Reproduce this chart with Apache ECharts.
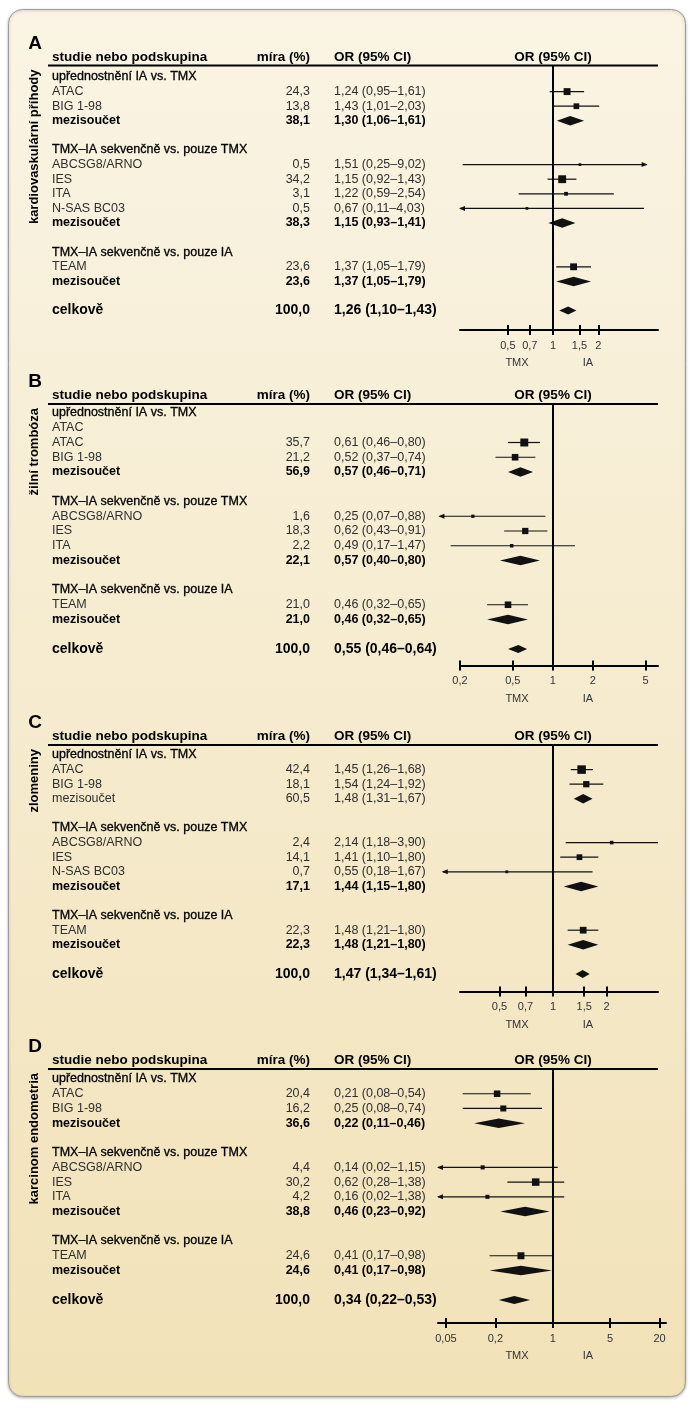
<!DOCTYPE html>
<html><head><meta charset="utf-8">
<script src="https://cdn.jsdelivr.net/npm/echarts@6/dist/echarts.min.js"></script>
<style>html,body{margin:0;padding:0;background:#fff}#c{width:694px;height:1408px}</style>
</head><body><div id="c"></div>
<script>
// ---------- Panel A: kardiovaskulární příhody ----------
const rowsA   = ['upřednostnění IA vs. TMX','ATAC','BIG 1-98','mezisoučet','','TMX–IA sekvenčně vs. pouze TMX','ABCSG8/ARNO','IES','ITA','N-SAS BC03','mezisoučet','','TMX–IA sekvenčně vs. pouze IA','TEAM','mezisoučet','','celkově'];
const kindA   = ['g','s','s','d','','g','s','s','s','s','d','','g','s','d','','t'];
const weightA = [null,24.3,13.8,38.1,null,null,0.5,34.2,3.1,0.5,38.3,null,null,23.6,23.6,null,100.0];
const orA     = [null,1.24,1.43,1.30,null,null,1.51,1.15,1.22,0.67,1.15,null,null,1.37,1.37,null,1.26];
const loA     = [null,0.95,1.01,1.06,null,null,0.25,0.92,0.59,0.11,0.93,null,null,1.05,1.05,null,1.10];
const hiA     = [null,1.61,2.03,1.61,null,null,9.02,1.43,2.54,4.03,1.41,null,null,1.79,1.79,null,1.43];
const ticksA  = [0.5,0.7,1,1.5,2];

// ---------- Panel B: žilní trombóza ----------
const rowsB   = ['upřednostnění IA vs. TMX','ATAC','ATAC','BIG 1-98','mezisoučet','','TMX–IA sekvenčně vs. pouze TMX','ABCSG8/ARNO','IES','ITA','mezisoučet','','TMX–IA sekvenčně vs. pouze IA','TEAM','mezisoučet','','celkově'];
const kindB   = ['g','l','s','s','d','','g','s','s','s','d','','g','s','d','','t'];
const weightB = [null,null,35.7,21.2,56.9,null,null,1.6,18.3,2.2,22.1,null,null,21.0,21.0,null,100.0];
const orB     = [null,null,0.61,0.52,0.57,null,null,0.25,0.62,0.49,0.57,null,null,0.46,0.46,null,0.55];
const loB     = [null,null,0.46,0.37,0.46,null,null,0.07,0.43,0.17,0.40,null,null,0.32,0.32,null,0.46];
const hiB     = [null,null,0.80,0.74,0.71,null,null,0.88,0.91,1.47,0.80,null,null,0.65,0.65,null,0.64];
const ticksB  = [0.2,0.5,1,2,5];

// ---------- Panel C: zlomeniny ----------
const rowsC   = ['upřednostnění IA vs. TMX','ATAC','BIG 1-98','mezisoučet','','TMX–IA sekvenčně vs. pouze TMX','ABCSG8/ARNO','IES','N-SAS BC03','mezisoučet','','TMX–IA sekvenčně vs. pouze IA','TEAM','mezisoučet','','celkově'];
const kindC   = ['g','s','s','dp','','g','s','s','s','d','','g','s','d','','t'];
const weightC = [null,42.4,18.1,60.5,null,null,2.4,14.1,0.7,17.1,null,null,22.3,22.3,null,100.0];
const orC     = [null,1.45,1.54,1.48,null,null,2.14,1.41,0.55,1.44,null,null,1.48,1.48,null,1.47];
const loC     = [null,1.26,1.24,1.31,null,null,1.18,1.10,0.18,1.15,null,null,1.21,1.21,null,1.34];
const hiC     = [null,1.68,1.92,1.67,null,null,3.90,1.80,1.67,1.80,null,null,1.80,1.80,null,1.61];
const ticksC  = [0.5,0.7,1,1.5,2];

// ---------- Panel D: karcinom endometria ----------
const rowsD   = ['upřednostnění IA vs. TMX','ATAC','BIG 1-98','mezisoučet','','TMX–IA sekvenčně vs. pouze TMX','ABCSG8/ARNO','IES','ITA','mezisoučet','','TMX–IA sekvenčně vs. pouze IA','TEAM','mezisoučet','','celkově'];
const kindD   = ['g','s','s','d','','g','s','s','s','d','','g','s','d','','t'];
const weightD = [null,20.4,16.2,36.6,null,null,4.4,30.2,4.2,38.8,null,null,24.6,24.6,null,100.0];
const orD     = [null,0.21,0.25,0.22,null,null,0.14,0.62,0.16,0.46,null,null,0.41,0.41,null,0.34];
const loD     = [null,0.08,0.08,0.11,null,null,0.02,0.28,0.02,0.23,null,null,0.17,0.17,null,0.22];
const hiD     = [null,0.54,0.74,0.46,null,null,1.15,1.38,1.38,0.92,null,null,0.98,0.98,null,0.53];
const ticksD  = [0.05,0.2,1,5,20];

const sideLabels = ['kardiovaskulární příhody','žilní trombóza','zlomeniny','karcinom endometria'];
const panelLetters = ['A','B','C','D'];
const headerTexts = ['studie nebo podskupina','míra (%)','OR (95% CI)','OR (95% CI)'];
const favourLabels = ['TMX','IA'];

// ---------- layout ----------
const FONT = "'Liberation Sans', Arial, sans-serif";
const layout = [
  {lineY:65.5, firstY:77,   sp:14.6,  axisY:330,   gl:460, gr:658, min:0.24, max:5,   arrowLo:0.24, arrowHi:4.2},
  {lineY:404,  firstY:413,  sp:14.75, axisY:665.5, gl:460, gr:658, min:0.2,  max:6.2, arrowLo:0.14, arrowHi:6.2},
  {lineY:745,  firstY:755,  sp:14.6,  axisY:991.5, gl:460, gr:658, min:0.3,  max:3.9, arrowLo:0.24, arrowHi:3.9},
  {lineY:1069, firstY:1079, sp:14.73, axisY:1323,  gl:438, gr:666, min:0.04, max:24,  arrowLo:0.04, arrowHi:24}
];
const panels = [
  {rows:rowsA,kind:kindA,w:weightA,or:orA,lo:loA,hi:hiA,ticks:ticksA},
  {rows:rowsB,kind:kindB,w:weightB,or:orB,lo:loB,hi:hiB,ticks:ticksB},
  {rows:rowsC,kind:kindC,w:weightC,or:orC,lo:loC,hi:hiC,ticks:ticksC},
  {rows:rowsD,kind:kindD,w:weightD,or:orD,lo:loD,hi:hiD,ticks:ticksD}
];

const fmt1 = v => v.toFixed(1).replace('.', ',');
const fmt2 = v => v.toFixed(2).replace('.', ',');
const fmtTick = v => String(Number(Math.pow(10, v).toPrecision(3))).replace('.', ',');

function txt(s, x, y, font, fill, align, semi) {
  const st = {text: s, font: font, fill: fill, align: align, verticalAlign: 'middle'};
  if (semi) { st.stroke = fill; st.lineWidth = 0.3; }
  return {type: 'text', x: x, y: y, style: st};
}

function renderFor(P, L) {
  return function (params, api) {
    const i = params.dataIndex;
    const k = P.kind[i];
    const y = api.coord([0, i])[1];
    const X = v => api.coord([Math.log10(v), i])[0];
    const ch = [];
    const bold = (k === 'd' || k === 't');
    const fs = k === 't' ? 14 : 12.5;
    const font = (bold ? 'bold ' : '') + fs + 'px ' + FONT;
    const col = (bold || k === 'g') ? '#000' : '#2e2e2e';
    if (P.rows[i]) ch.push(txt(P.rows[i], 52, y, font, col, 'left', k === 'g'));
    if (P.w[i] != null) ch.push(txt(fmt1(P.w[i]), 310, y, font, col, 'right'));
    if (P.or[i] != null) ch.push(txt(fmt2(P.or[i]) + ' (' + fmt2(P.lo[i]) + '–' + fmt2(P.hi[i]) + ')', 334, y, font, col, 'left'));
    if (k === 's') {
      const lo = Math.max(P.lo[i], L.arrowLo), hi = Math.min(P.hi[i], L.arrowHi);
      const x1 = X(lo), x2 = X(hi), xc = X(P.or[i]);
      ch.push({type: 'line', shape: {x1: x1, y1: y, x2: x2, y2: y}, style: {stroke: '#111', lineWidth: 1.2}});
      if (P.lo[i] < L.arrowLo) ch.push({type: 'polygon', shape: {points: [[x1 - 1, y], [x1 + 5, y - 2.5], [x1 + 5, y + 2.5]]}, style: {fill: '#111'}});
      if (P.hi[i] > L.arrowHi) ch.push({type: 'polygon', shape: {points: [[x2 + 1, y], [x2 - 5, y - 2.5], [x2 - 5, y + 2.5]]}, style: {fill: '#111'}});
      const s = 2 + Math.sqrt(P.w[i]);
      ch.push({type: 'rect', shape: {x: xc - s / 2, y: y - s / 2, width: s, height: s}, style: {fill: '#111'}});
    } else if (k === 'd' || k === 'dp' || k === 't') {
      const h = k === 't' ? 8 : 9.5;
      const x1 = X(P.lo[i]), x2 = X(P.hi[i]), xc = X(P.or[i]);
      ch.push({type: 'polygon', shape: {points: [[x1, y], [xc, y - h / 2], [x2, y], [xc, y + h / 2]]}, style: {fill: '#111'}});
    }
    return {type: 'group', children: ch};
  };
}

const grids = [], xAxes = [], yAxes = [], series = [];
const graphic = [{
  type: 'rect', z: -10, silent: true,
  shape: {x: 8.5, y: 9.5, width: 677, height: 1387, r: 14},
  style: {
    fill: new echarts.graphic.LinearGradient(0, 0, 0, 1, [{offset: 0, color: '#faf4e4'}, {offset: 1, color: '#f1e2b8'}]),
    stroke: '#9c9c9c', lineWidth: 1, shadowBlur: 3, shadowColor: 'rgba(0,0,0,0.25)', shadowOffsetY: 1
  }
}];

panels.forEach((P, k) => {
  const L = layout[k];
  grids.push({left: L.gl, width: L.gr - L.gl, top: L.lineY, height: L.axisY - L.lineY, containLabel: false, outerBoundsMode: 'none'});
  const tv = P.ticks.map(v => Math.log10(v));
  const base = {gridIndex: k, type: 'value', position: 'bottom', min: Math.log10(L.min), max: Math.log10(L.max), splitLine: {show: false}};
  xAxes.push(Object.assign({}, base, {
    axisLine: {show: true, onZero: false, lineStyle: {color: '#000', width: 2}},
    axisTick: {show: true, inside: false, length: 5, customValues: tv, lineStyle: {color: '#000', width: 2}},
    axisLabel: {show: true, customValues: tv, formatter: fmtTick, margin: 10, color: '#333', fontSize: 11, fontFamily: FONT}
  }));
  xAxes.push(Object.assign({}, base, {
    axisLine: {show: false, onZero: false},
    axisTick: {show: true, inside: true, length: 5, customValues: tv, lineStyle: {color: '#000', width: 2}},
    axisLabel: {show: false}
  }));
  yAxes.push({gridIndex: k, type: 'value', inverse: true,
    min: -(L.firstY - L.lineY) / L.sp, max: (L.axisY - L.firstY) / L.sp, show: false});
  series.push({
    type: 'custom', xAxisIndex: 2 * k, yAxisIndex: k, clip: false, silent: true,
    data: P.rows.map((_, i) => [P.or[i] != null ? Math.log10(P.or[i]) : 0, i]),
    encode: {x: 0, y: 1},
    renderItem: renderFor(P, L),
    markLine: {silent: true, symbol: ['none', 'none'], label: {show: false},
      lineStyle: {color: '#000', width: 2, type: 'solid'}, data: [{xAxis: 0}]}
  });

  // static texts
  const hy = L.lineY - 8.5;
  const hf = 'bold 13.5px ' + FONT;
  graphic.push({type: 'text', x: 35, y: L.lineY - 22, style: {text: panelLetters[k], font: 'bold 19px ' + FONT, fill: '#000', align: 'center', verticalAlign: 'middle'}});
  graphic.push({type: 'text', x: 52, y: hy, style: {text: headerTexts[0], font: hf, fill: '#000', align: 'left', verticalAlign: 'middle'}});
  graphic.push({type: 'text', x: 310, y: hy, style: {text: headerTexts[1], font: hf, fill: '#000', align: 'right', verticalAlign: 'middle'}});
  graphic.push({type: 'text', x: 334, y: hy, style: {text: headerTexts[2], font: hf, fill: '#000', align: 'left', verticalAlign: 'middle'}});
  graphic.push({type: 'text', x: 553, y: hy, style: {text: headerTexts[3], font: hf, fill: '#000', align: 'center', verticalAlign: 'middle'}});
  graphic.push({type: 'line', shape: {x1: 48, y1: L.lineY, x2: 658, y2: L.lineY}, style: {stroke: '#000', lineWidth: 2}});
  graphic.push({type: 'text', x: 34, y: L.lineY + 4, rotation: Math.PI / 2,
    style: {text: sideLabels[k], font: 'bold 13px ' + FONT, fill: '#000', align: 'right', verticalAlign: 'middle'}});
  graphic.push({type: 'text', x: 517, y: L.axisY + 33, style: {text: favourLabels[0], font: '11px ' + FONT, fill: '#333', align: 'center', verticalAlign: 'middle'}});
  graphic.push({type: 'text', x: 588, y: L.axisY + 33, style: {text: favourLabels[1], font: '11px ' + FONT, fill: '#333', align: 'center', verticalAlign: 'middle'}});
});

const chart = echarts.init(document.getElementById('c'), null, {renderer: 'canvas'});
chart.setOption({
  animation: false,
  backgroundColor: '#ffffff',
  grid: grids, xAxis: xAxes, yAxis: yAxes, series: series, graphic: graphic
});
</script></body></html>
